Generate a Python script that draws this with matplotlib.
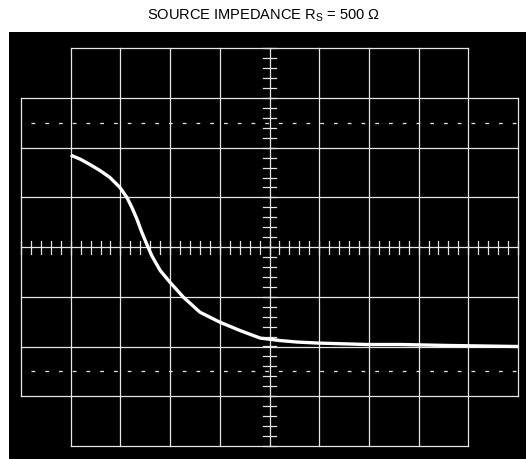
import numpy as np
import matplotlib
matplotlib.use("Agg")
import matplotlib.pyplot as plt

# Trace, in graticule divisions (centre = 0,0)
trace_x = [-4.00, -3.81, -3.61, -3.41, -3.21, -3.01, -2.87, -2.77, -2.67,
           -2.57, -2.47, -2.37, -2.20, -2.00, -1.73, -1.40, -1.00, -0.59,
           -0.19, 0.21, 0.55, 0.95, 1.96, 2.63, 3.63, 5.00]
trace_y = [1.85, 1.77, 1.66, 1.54, 1.40, 1.20, 1.00, 0.80, 0.57,
           0.30, 0.06, -0.17, -0.47, -0.71, -1.01, -1.31, -1.51, -1.68,
           -1.83, -1.88, -1.91, -1.93, -1.96, -1.96, -1.98, -2.00]

title_text = "SOURCE IMPEDANCE R$_\\mathregular{S}$ = 500 Ω"
reference_levels = [2.5, -2.5]

W, H = 528, 460
fig = plt.figure(figsize=(W / 100, H / 100), dpi=100)
fig.patch.set_facecolor("white")

# screen area (pixels): x 9..526, y 32.5..460
left_px, right_px, top_px, bot_px = 9, 526, 32.5, 460
ax = fig.add_axes([left_px / W, 0, (right_px - left_px) / W, (bot_px - top_px) / H])
ax.set_facecolor("black")
div = 49.7
cx, cy = 21 + 5 * div, 248.1
ax.set_xlim((left_px - cx) / div, (right_px - cx) / div)
ax.set_ylim((cy - bot_px) / div, (cy - top_px) / div)
for s in ax.spines.values():
    s.set_visible(False)
ax.set_xticks([])
ax.set_yticks([])

gc = "#e6e6e6"
glw = 0.9
# vertical graticule lines
for i in range(-5, 6):
    if abs(i) == 5:
        ax.plot([i, i], [-3, 3], color=gc, lw=glw)
    else:
        ax.plot([i, i], [-4, 4], color=gc, lw=glw)
# horizontal graticule lines
for j in range(-4, 5):
    if abs(j) == 4:
        ax.plot([-4, 4], [j, j], color=gc, lw=glw)
    else:
        ax.plot([-5, 5], [j, j], color=gc, lw=glw)

# minor ticks on the centre axes
for t in np.arange(-5, 5.001, 0.2):
    ax.plot([t, t], [-0.13, 0.13], color=gc, lw=glw)
for t in np.arange(-4, 4.001, 0.2):
    ax.plot([-0.14, 0.14], [t, t], color=gc, lw=glw)

# dashed reference levels
for lvl in reference_levels:
    ax.plot([-4.79, 4.95], [lvl, lvl], color=gc, lw=glw,
            dashes=(3, 8), dash_capstyle="butt")

# the trace
ax.plot(trace_x, trace_y, color="white", lw=2.4,
        solid_capstyle="butt", solid_joinstyle="round")

fig.text(263.5 / W, 1 - 16 / H, title_text, ha="center", va="center",
         fontsize=10.5, family="Liberation Sans", color="black")

fig.savefig("out.png", dpi=100, facecolor="white")
